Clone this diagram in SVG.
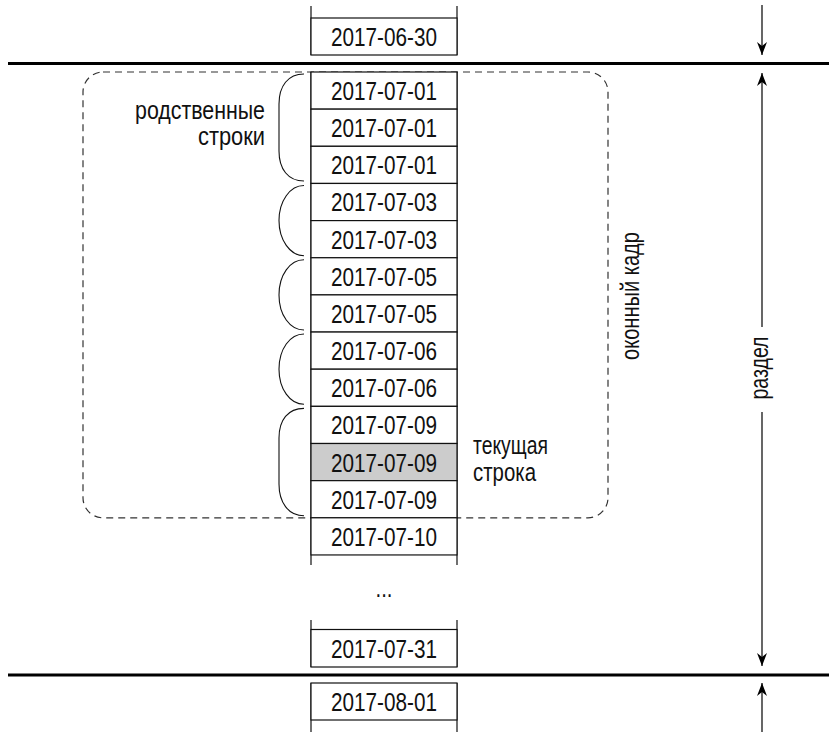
<svg xmlns="http://www.w3.org/2000/svg" width="829" height="732" viewBox="0 0 829 732">
<style>
text{font-family:"Liberation Sans","DejaVu Sans",sans-serif;font-size:25.5px;fill:#111}
.cell rect{fill:#fff;stroke:#111;stroke-width:1.2}
.cell text{text-anchor:middle}
.cur rect{fill:#cccccc}
.side{stroke:#111;stroke-width:1.2;fill:none}
.brace{stroke:#111;stroke-width:1.1;fill:none}
.thick{stroke:#000;stroke-width:3}
.frame{fill:none;stroke:#333;stroke-width:1.2;stroke-dasharray:7 5}
.dim{stroke:#000;stroke-width:1.2;fill:none;marker-end:url(#ah)}
</style>
<defs>
<marker id="ah" viewBox="-14 -6 15 12" refX="0" refY="0" markerWidth="15" markerHeight="12" markerUnits="userSpaceOnUse" orient="auto">
<path d="M0,0 L-13,-5 L-9,0 L-13,5 Z" fill="#000"/>
</marker>
</defs>

<g id="window-frame">
<rect class="frame" x="83" y="72" width="525" height="445.8" rx="20" ry="20"/>
</g>

<g id="partition-lines">
<line class="thick" x1="8" y1="63.5" x2="829" y2="63.5"/>
<line class="thick" x1="8" y1="675" x2="829" y2="675"/>
</g>

<g id="column-sides">
<path class="side" d="M311 6V55M457 6V55"/>
<path class="side" d="M311 72V565M457 72V565"/>
<path class="side" d="M311 620V667M457 620V667"/>
<path class="side" d="M311 683V732M457 683V732"/>
</g>

<g id="cell-2017-06-30" class="cell"><rect x="311" y="18" width="146" height="37"/><text x="384" y="46" textLength="106" lengthAdjust="spacingAndGlyphs">2017-06-30</text></g>
<g id="cell-2017-07-01a" class="cell"><rect x="311" y="72" width="146" height="37.15"/><text x="384" y="100" textLength="106" lengthAdjust="spacingAndGlyphs">2017-07-01</text></g>
<g id="cell-2017-07-01b" class="cell"><rect x="311" y="109.15" width="146" height="37.15"/><text x="384" y="137.15" textLength="106" lengthAdjust="spacingAndGlyphs">2017-07-01</text></g>
<g id="cell-2017-07-01c" class="cell"><rect x="311" y="146.3" width="146" height="37.15"/><text x="384" y="174.3" textLength="106" lengthAdjust="spacingAndGlyphs">2017-07-01</text></g>
<g id="cell-2017-07-03a" class="cell"><rect x="311" y="183.45" width="146" height="37.15"/><text x="384" y="211.45" textLength="106" lengthAdjust="spacingAndGlyphs">2017-07-03</text></g>
<g id="cell-2017-07-03b" class="cell"><rect x="311" y="220.6" width="146" height="37.15"/><text x="384" y="248.6" textLength="106" lengthAdjust="spacingAndGlyphs">2017-07-03</text></g>
<g id="cell-2017-07-05a" class="cell"><rect x="311" y="257.75" width="146" height="37.15"/><text x="384" y="285.75" textLength="106" lengthAdjust="spacingAndGlyphs">2017-07-05</text></g>
<g id="cell-2017-07-05b" class="cell"><rect x="311" y="294.9" width="146" height="37.15"/><text x="384" y="322.9" textLength="106" lengthAdjust="spacingAndGlyphs">2017-07-05</text></g>
<g id="cell-2017-07-06a" class="cell"><rect x="311" y="332.05" width="146" height="37.15"/><text x="384" y="360.05" textLength="106" lengthAdjust="spacingAndGlyphs">2017-07-06</text></g>
<g id="cell-2017-07-06b" class="cell"><rect x="311" y="369.2" width="146" height="37.15"/><text x="384" y="397.2" textLength="106" lengthAdjust="spacingAndGlyphs">2017-07-06</text></g>
<g id="cell-2017-07-09a" class="cell"><rect x="311" y="406.35" width="146" height="37.15"/><text x="384" y="434.35" textLength="106" lengthAdjust="spacingAndGlyphs">2017-07-09</text></g>
<g id="cell-2017-07-09b" class="cell cur"><rect x="311" y="443.5" width="146" height="37.15"/><text x="384" y="471.5" textLength="106" lengthAdjust="spacingAndGlyphs">2017-07-09</text></g>
<g id="cell-2017-07-09c" class="cell"><rect x="311" y="480.65" width="146" height="37.15"/><text x="384" y="508.65" textLength="106" lengthAdjust="spacingAndGlyphs">2017-07-09</text></g>
<g id="cell-2017-07-10" class="cell"><rect x="311" y="517.8" width="146" height="37.15"/><text x="384" y="545.8" textLength="106" lengthAdjust="spacingAndGlyphs">2017-07-10</text></g>
<g id="ellipsis"><text x="384" y="597" text-anchor="middle" textLength="17" lengthAdjust="spacingAndGlyphs">...</text></g>
<g id="cell-2017-07-31" class="cell"><rect x="311" y="629.5" width="146" height="37.5"/><text x="384" y="657.5" textLength="106" lengthAdjust="spacingAndGlyphs">2017-07-31</text></g>
<g id="cell-2017-08-01" class="cell"><rect x="311" y="683" width="146" height="37"/><text x="384" y="711" textLength="106" lengthAdjust="spacingAndGlyphs">2017-08-01</text></g>

<g id="braces">
<path class="brace" d="M304 74 C288 74 279 86 279 104 L279 151 C279 169 288 181 304 181"/>
<path class="brace" d="M304 185.5 C290 185.5 279 201 279 220.6 C279 240 290 255.7 304 255.7"/>
<path class="brace" d="M304 259.8 C290 259.8 279 275 279 294.9 C279 315 290 330 304 330"/>
<path class="brace" d="M304 334 C290 334 279 349 279 369.2 C279 389 290 404.3 304 404.3"/>
<path class="brace" d="M304 408.4 C288 408.4 279 420 279 438 L279 484 C279 502 288 515.8 304 515.8"/>
</g>

<g id="label-sibling-rows">
<text x="265" y="119" text-anchor="end" textLength="130" lengthAdjust="spacingAndGlyphs">родственные</text>
<text x="265" y="145" text-anchor="end" textLength="67" lengthAdjust="spacingAndGlyphs">строки</text>
</g>
<g id="label-current-row">
<text x="473" y="454" textLength="75" lengthAdjust="spacingAndGlyphs">текущая</text>
<text x="473" y="481" textLength="63" lengthAdjust="spacingAndGlyphs">строка</text>
</g>
<g id="label-window-frame">
<text transform="translate(639,296) rotate(-90)" text-anchor="middle" textLength="128" lengthAdjust="spacingAndGlyphs">оконный кадр</text>
</g>
<g id="label-partition">
<text transform="translate(768,368) rotate(-90)" text-anchor="middle" textLength="63" lengthAdjust="spacingAndGlyphs">раздел</text>
</g>

<g id="connectors">
<line class="dim" x1="762" y1="5" x2="762" y2="55"/>
<line class="dim" x1="762" y1="327" x2="762" y2="73"/>
<line class="dim" x1="762" y1="412" x2="762" y2="666"/>
<line class="dim" x1="762" y1="732" x2="762" y2="683"/>
</g>
</svg>
